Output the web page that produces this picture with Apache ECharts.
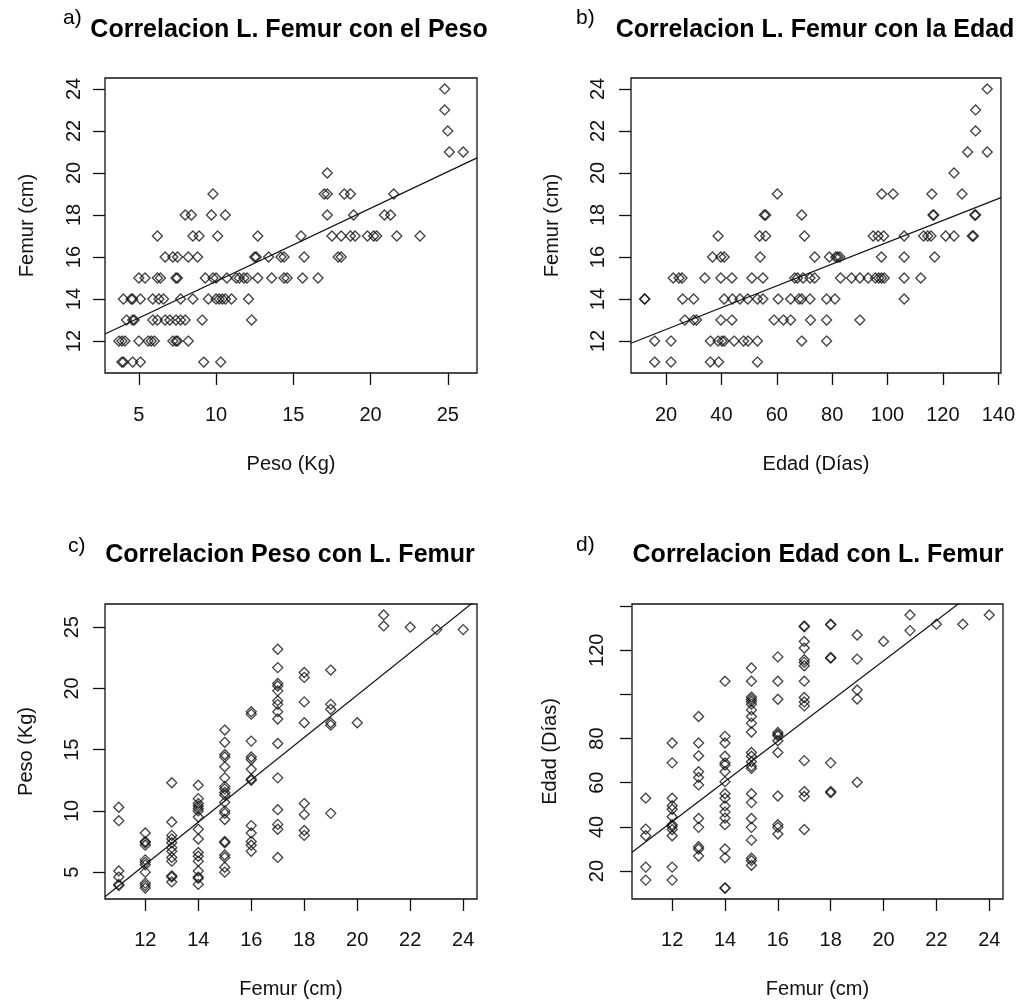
<!DOCTYPE html>
<html>
<head>
<meta charset="utf-8">
<title>Correlaciones Femur, Peso y Edad</title>
<script src="https://cdn.jsdelivr.net/npm/echarts@6/dist/echarts.min.js"></script>
<style>
  html, body { margin: 0; padding: 0; background: #fff; }
  #chart { width: 1018px; height: 1003px; }
</style>
</head>
<body>
<div id="chart"></div>
<script>
// longitud del femur (cm), un grupo por valor
const femurLevels = [11, 12, 13, 14, 15, 16, 17, 18, 19, 20, 21, 22, 23, 24];

// peso (kg) de cada animal, agrupado por longitud de femur
const pesoByFemur = [
  [3.9, 4.0, 4.6, 5.1, 9.2, 10.3],
  [3.7, 3.9, 4.1, 5.0, 5.6, 5.8, 6.0, 7.2, 7.4, 7.5, 8.2],
  [4.2, 4.6, 4.7, 5.9, 6.2, 6.7, 7.0, 7.4, 7.7, 8.0, 9.1, 12.3],
  [4.0, 4.5, 4.6, 5.1, 5.9, 6.3, 6.6, 7.7, 8.5, 9.5, 10.0, 10.2, 10.4, 10.6, 11.0, 12.1],
  [5.0, 5.4, 6.2, 6.4, 7.4, 7.5, 9.3, 9.8, 10.0, 10.7, 11.3, 11.5, 11.8, 12.0, 12.7, 13.6, 14.4, 14.6, 15.6, 16.6],
  [6.7, 7.2, 7.5, 8.2, 8.8, 12.5, 12.6, 13.4, 14.2, 14.4, 15.7, 17.9, 18.1],
  [6.2, 8.5, 8.9, 10.1, 12.7, 15.5, 17.5, 18.1, 18.7, 19.0, 19.8, 20.2, 20.4, 21.7, 23.2],
  [8.0, 8.4, 9.7, 10.6, 17.2, 18.9, 20.9, 21.3],
  [9.8, 17.0, 17.2, 18.3, 18.7, 21.5],
  [17.2],
  [25.1, 26.0],
  [25.0],
  [24.8],
  [24.8]
];

// edad (dias), agrupada por longitud de femur
const edadByFemur = [
  [15.9, 21.8, 36.0, 39.0, 53.0],
  [15.9, 21.8, 36.0, 38.8, 40.2, 41.0, 44.6, 48.0, 49.6, 53.0, 69.0, 78.0],
  [26.8, 30.0, 31.0, 39.8, 43.8, 59.0, 62.4, 65.0, 72.2, 78.0, 90.0],
  [12.3, 12.3, 26.0, 30.0, 41.0, 44.0, 46.7, 49.5, 53.0, 55.0, 60.5, 65.0, 68.0, 69.0, 72.0, 78.0, 81.0, 106.0],
  [22.6, 24.7, 25.8, 34.0, 39.8, 43.8, 51.0, 55.0, 66.5, 67.5, 69.5, 72.0, 73.7, 83.0, 87.0, 90.0, 93.0, 95.6, 96.8, 97.8, 98.8, 106.0, 112.0],
  [36.8, 39.8, 41.0, 54.0, 73.7, 79.0, 81.3, 82.0, 82.8, 97.8, 106.0, 117.0],
  [38.8, 53.8, 56.0, 70.0, 94.8, 96.6, 98.6, 106.0, 113.0, 114.5, 115.7, 121.0, 124.0, 130.6, 131.0],
  [55.5, 56.0, 69.0, 116.4, 116.7, 131.5, 131.8],
  [60.2, 97.9, 102.0, 116.0, 126.9],
  [124.0],
  [128.9, 136.0],
  [131.8],
  [131.8],
  [136.0]
];

// marcas de los ejes
const femurTicks = [12, 14, 16, 18, 20, 22, 24];
const pesoTicks = [5, 10, 15, 20, 25];
const edadTicks = [20, 40, 60, 80, 100, 120, 140];
const edadLabelsD = [20, 40, 60, 80, 120];

const FONT = '"Liberation Sans", Arial, sans-serif';
const INK = '#111';

// [femur, valor] para cada animal
function toPairs(groups) {
  const out = [];
  groups.forEach((vals, i) => vals.forEach(v => out.push([femurLevels[i], v])));
  return out;
}

// rango como lo hace R: datos +/- 4%
function rRange(vals) {
  const lo = Math.min(...vals), hi = Math.max(...vals);
  const d = (hi - lo) * 0.04;
  return [lo - d, hi + d];
}

// recta de minimos cuadrados y = a + b x
function fit(pts) {
  const n = pts.length;
  const mx = pts.reduce((s, p) => s + p[0], 0) / n;
  const my = pts.reduce((s, p) => s + p[1], 0) / n;
  let sxy = 0, sxx = 0;
  pts.forEach(p => { sxy += (p[0] - mx) * (p[1] - my); sxx += (p[0] - mx) ** 2; });
  const b = sxy / sxx;
  return { a: my - b * mx, b };
}

const pesoPairs = toPairs(pesoByFemur);
const edadPairs = toPairs(edadByFemur);

const femurRange = rRange(pesoPairs.map(p => p[0]));
const pesoRange = rRange(pesoPairs.map(p => p[1]));
const edadRange = rRange(edadPairs.map(p => p[1]));

const panels = [
  {
    tag: 'a)', title: 'Correlacion L. Femur con el Peso',
    grid: { left: 105, top: 78, width: 372, height: 295 },
    tagPos: [63, 18], titlePos: [289, 30],
    pts: pesoPairs.map(p => [p[1], p[0]]),
    xRange: pesoRange, yRange: femurRange,
    xTicks: pesoTicks, xLabels: pesoTicks, yTicks: femurTicks, yLabels: femurTicks,
    xName: 'Peso (Kg)', yName: 'Femur (cm)', xMargin: 32, yMargin: 21, xGap: 81, yGap: 68
  },
  {
    tag: 'b)', title: 'Correlacion L. Femur con la Edad',
    grid: { left: 631, top: 78, width: 371, height: 295 },
    tagPos: [576, 18], titlePos: [815, 30],
    pts: edadPairs.map(p => [p[1], p[0]]),
    xRange: edadRange, yRange: femurRange,
    xTicks: edadTicks, xLabels: edadTicks, yTicks: femurTicks, yLabels: femurTicks,
    xName: 'Edad (Días)', yName: 'Femur (cm)', xMargin: 32, yMargin: 23, xGap: 81, yGap: 69
  },
  {
    tag: 'c)', title: 'Correlacion Peso con L. Femur',
    grid: { left: 105, top: 604, width: 372, height: 295 },
    tagPos: [68, 546], titlePos: [290, 555],
    pts: pesoPairs,
    xRange: femurRange, yRange: pesoRange,
    xTicks: femurTicks, xLabels: femurTicks, yTicks: pesoTicks, yLabels: pesoTicks,
    xName: 'Femur (cm)', yName: 'Peso (Kg)', xMargin: 31, yMargin: 23, xGap: 80, yGap: 69
  },
  {
    tag: 'd)', title: 'Correlacion Edad con L. Femur',
    grid: { left: 632, top: 604, width: 371, height: 295 },
    tagPos: [576, 545], titlePos: [818, 555],
    pts: edadPairs,
    xRange: femurRange, yRange: edadRange,
    xTicks: femurTicks, xLabels: femurTicks, yTicks: edadTicks, yLabels: edadLabelsD,
    xName: 'Femur (cm)', yName: 'Edad (Días)', xMargin: 31, yMargin: 25, xGap: 80, yGap: 72
  }
];

function valueAxis(gi, range, ticks, labels, name, margin, gap, isY) {
  return {
    type: 'value',
    gridIndex: gi,
    min: range[0],
    max: range[1],
    axisLine: { show: false },
    splitLine: { show: false },
    axisTick: { show: true, inside: false, length: 12, customValues: ticks, lineStyle: { color: INK, width: 1.3 } },
    axisLabel: { customValues: labels, rotate: isY ? 90 : 0, margin: margin, fontSize: 20, color: INK, fontFamily: FONT },
    name: name,
    nameLocation: 'middle',
    nameGap: gap,
    nameTextStyle: { fontSize: 20, color: INK, fontFamily: FONT }
  };
}

const grids = [], xAxes = [], yAxes = [], series = [], graphics = [];

panels.forEach((p, i) => {
  grids.push(Object.assign({ show: true, borderColor: INK, borderWidth: 1.3, backgroundColor: '#fff' }, p.grid));
  xAxes.push(valueAxis(i, p.xRange, p.xTicks, p.xLabels, p.xName, p.xMargin, p.xGap, false));
  yAxes.push(valueAxis(i, p.yRange, p.yTicks, p.yLabels, p.yName, p.yMargin, p.yGap, true));

  series.push({
    type: 'scatter',
    xAxisIndex: i, yAxisIndex: i,
    data: p.pts,
    symbol: 'diamond',
    symbolSize: 10,
    itemStyle: { color: 'rgba(0,0,0,0)', borderColor: INK, borderWidth: 1.3 }
  });

  const m = fit(p.pts);
  const x0 = p.xRange[0], x1 = p.xRange[1];
  series.push({
    type: 'line',
    xAxisIndex: i, yAxisIndex: i,
    data: [[x0, m.a + m.b * x0], [x1, m.a + m.b * x1]],
    symbol: 'none',
    clip: true,
    lineStyle: { color: INK, width: 1.2 }
  });

  graphics.push({
    type: 'text', x: p.titlePos[0], y: p.titlePos[1],
    style: { text: p.title, fontSize: 25, fontWeight: 'bold', fontFamily: FONT, fill: '#000', align: 'center', verticalAlign: 'middle' }
  });
  graphics.push({
    type: 'text', x: p.tagPos[0], y: p.tagPos[1],
    style: { text: p.tag, fontSize: 21, fontFamily: FONT, fill: '#000', align: 'left', verticalAlign: 'middle' }
  });
});

const chart = echarts.init(document.getElementById('chart'));
chart.setOption({
  animation: false,
  backgroundColor: '#fff',
  grid: grids,
  xAxis: xAxes,
  yAxis: yAxes,
  series: series,
  graphic: graphics
});
</script>
</body>
</html>
